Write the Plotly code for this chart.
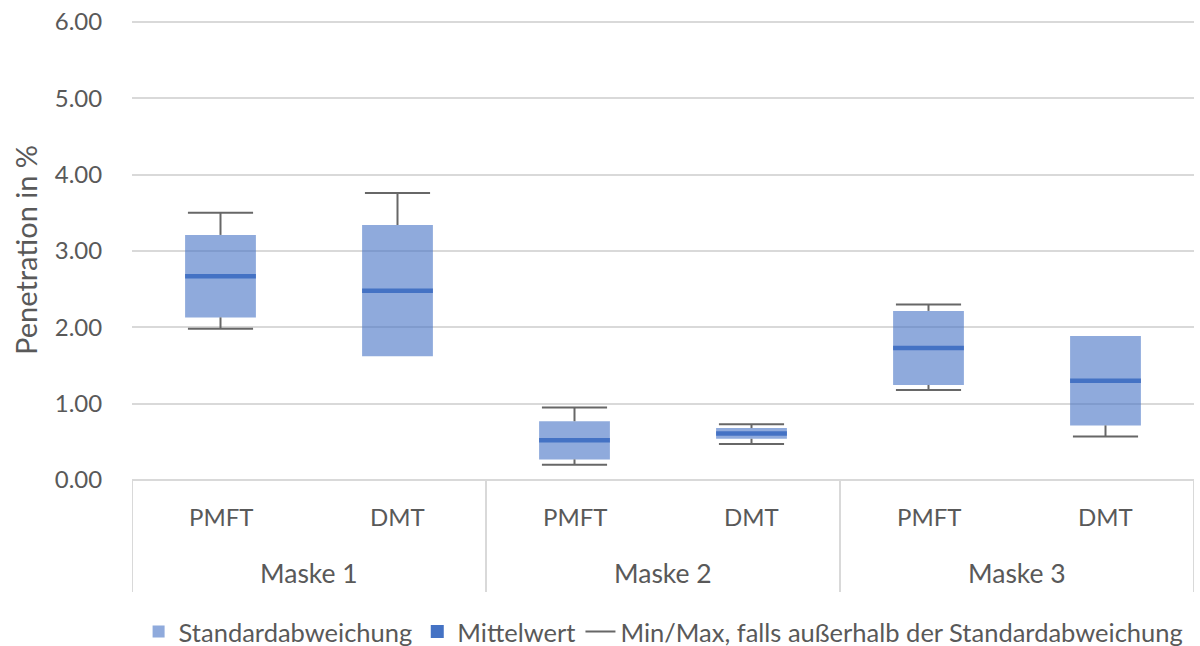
import plotly.graph_objects as go

# ---- data ----
masks = ["Maske 1", "Maske 2", "Maske 3"]
methods = ["PMFT", "DMT"]
means = [2.67, 2.48, 0.52, 0.61, 1.73, 1.30]
sds = [0.54, 0.86, 0.25, 0.07, 0.485, 0.585]
mins = [1.98, None, 0.20, 0.47, 1.18, 0.57]
maxs = [3.50, 3.76, 0.95, 0.73, 2.30, None]
y_ticks = [0, 1, 2, 3, 4, 5, 6]
y_title = "Penetration in %"

# ---- style ----
FONT = "Lato"
TXT = "#595959"
GRID = "#d9d9d9"
BLUE = "rgb(68,114,196)"
BOX = "rgba(68,114,196,0.6)"
WHISK = "#676767"
BOX_W = 0.4
CAP_HALF = 0.184

n = len(means)
idx = list(range(n))

fig = go.Figure()

fig.add_trace(go.Bar(
    x=idx, y=[2 * s for s in sds], base=[m - s for m, s in zip(means, sds)],
    width=BOX_W, marker=dict(color=BOX, line=dict(width=0)),
    name="Standardabweichung", hoverinfo="skip"))

mx, my = [], []
for i, m in zip(idx, means):
    mx += [i - BOX_W / 2, i + BOX_W / 2, None]
    my += [m, m, None]
fig.add_trace(go.Scatter(x=mx, y=my, mode="lines", line=dict(color=BLUE, width=4.5),
                         showlegend=False, hoverinfo="skip"))
fig.add_trace(go.Scatter(x=[None], y=[None], mode="markers",
                         marker=dict(symbol="square", color=BLUE, size=13),
                         name="Mittelwert"))

wx, wy = [], []
for i, m, s, lo, hi in zip(idx, means, sds, mins, maxs):
    if hi is not None:
        wx += [i, i, None, i - CAP_HALF, i + CAP_HALF, None]
        wy += [m + s, hi, None, hi, hi, None]
    if lo is not None:
        wx += [i, i, None, i - CAP_HALF, i + CAP_HALF, None]
        wy += [m - s, lo, None, lo, lo, None]
fig.add_trace(go.Scatter(x=wx, y=wy, mode="lines", line=dict(color=WHISK, width=2),
                         name="Min/Max, falls außerhalb der Standardabweichung",
                         hoverinfo="skip"))

# category labels, dividers, y title
annotations = []
for g, mask in enumerate(masks):
    for k, meth in enumerate(methods):
        annotations.append(dict(x=g * len(methods) + k, y=-0.0804, xref="x", yref="paper",
                                text=meth, showarrow=False, yanchor="middle",
                                font=dict(family=FONT, size=24, color=TXT)))
    annotations.append(dict(x=g * len(methods) + (len(methods) - 1) / 2, y=-0.2022,
                            xref="x", yref="paper", text=mask, showarrow=False,
                            yanchor="middle", font=dict(family=FONT, size=26.5, color=TXT)))
annotations.append(dict(x=-0.1008, y=0.5, xref="paper", yref="paper", text=y_title,
                        textangle=-90, showarrow=False, xanchor="center", yanchor="middle",
                        font=dict(family=FONT, size=29, color=TXT)))
shapes = []
for g in range(len(masks) + 1):
    xd = g * len(methods) - 0.5
    shapes.append(dict(type="line", xref="x", yref="paper", x0=xd, x1=xd, y0=0, y1=-0.2435,
                       line=dict(color=GRID, width=2)))

fig.update_layout(
    width=1200, height=646,
    margin=dict(l=132, r=6, t=20, b=166),
    paper_bgcolor="white", plot_bgcolor="white",
    font=dict(family=FONT, size=25.5, color=TXT),
    barmode="overlay",
    showlegend=True,
    legend=dict(orientation="h", xref="container", yref="container",
                x=0.553, xanchor="center", y=0.0217, yanchor="middle",
                font=dict(family=FONT, size=25.5, color=TXT), itemwidth=30,
                tracegroupgap=0, borderwidth=0),
    annotations=annotations,
    shapes=shapes,
    xaxis=dict(range=[-0.5, n - 0.5], showticklabels=False, showgrid=False,
               zeroline=False, showline=False, ticks="", automargin=False),
    yaxis=dict(range=[0, 6.025], tickvals=y_ticks, ticktext=[f"{v:.2f}" for v in y_ticks],
               showgrid=True, gridcolor=GRID, gridwidth=2,
               zeroline=True, zerolinecolor=GRID, zerolinewidth=2,
               ticks="outside", ticklen=24, tickcolor="rgba(0,0,0,0)",
               tickfont=dict(family=FONT, size=24, color=TXT), automargin=False),
)

fig.write_html("out.html", config={"displayModeBar": False},
               post_script="document.body.style.margin='0';")
